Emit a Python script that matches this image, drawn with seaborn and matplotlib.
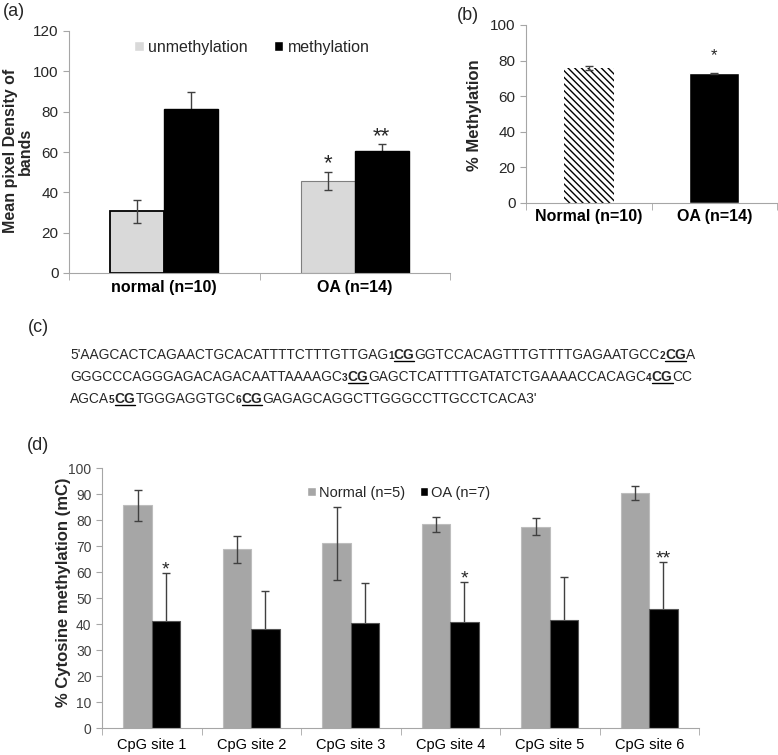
import re
import numpy as np
import pandas as pd
import matplotlib
matplotlib.use("Agg")
import matplotlib.pyplot as plt
from matplotlib.patches import Patch
from matplotlib.lines import Line2D
import seaborn as sns

# ---------------- DATA ----------------
# (a) mean pixel density of bands
a_groups = ["normal (n=10)", "OA (n=14)"]
a_types = ["unmethylation", "methylation"]
a_unmeth = [30.5, 45.8]
a_unmeth_err = [5.5, 4.5]
a_meth = [81.5, 60.3]
a_meth_err = [8.5, 3.6]
a_stars_unmeth = ["", "*"]
a_stars_meth = ["", "**"]

# (b) % methylation
b_groups = ["Normal (n=10)", "OA (n=14)"]
b_values = [75.8, 72.8]
b_err = [1.2, 0.5]
b_stars = ["", "*"]

# (c) promoter sequence, digit+CG marks a CpG site
seq_lines = [
    "5'AAGCACTCAGAACTGCACATTTTCTTTGTTGAG1CGGGTCCACAGTTTGTTTTGAGAATGCC2CGA",
    "GGGCCCAGGGAGACAGACAATTAAAAGC3CGGAGCTCATTTTGATATCTGAAAACCACAGC4CGCC",
    "AGCA5CGTGGGAGGTGC6CGGAGAGCAGGCTTGGGCCTTGCCTCACA3'",
]

# (d) % cytosine methylation per CpG site
d_sites = ["CpG site 1", "CpG site 2", "CpG site 3", "CpG site 4", "CpG site 5", "CpG site 6"]
d_groups = ["Normal (n=5)", "OA (n=7)"]
d_normal = [85.7, 68.8, 71.0, 78.3, 77.4, 90.4]
d_normal_err = [6.0, 5.2, 14.0, 3.0, 3.2, 2.8]
d_oa = [41.2, 38.0, 40.5, 40.7, 41.7, 45.8]
d_oa_err = [18.5, 14.6, 15.3, 15.5, 16.4, 18.0]
d_stars = ["*", "", "", "*", "", "**"]

# ---------------- SETUP ----------------
sns.set_style("ticks")
plt.rcParams["font.family"] = ["Liberation Sans", "DejaVu Sans"]
plt.rcParams["hatch.linewidth"] = 1.0

W, H = 778, 755
fig = plt.figure(figsize=(W / 100, H / 100), dpi=100)


def px_axes(left, top, right, bottom):
    return fig.add_axes([left / W, 1 - bottom / H, (right - left) / W, (bottom - top) / H])


def style_axes(ax, ymax, ystep, tick_color, ysize, xsize, xbold, xpad):
    sc = "#a6a6a6"
    sns.despine(ax=ax)
    for s in ["left", "bottom"]:
        ax.spines[s].set_color(sc)
    ax.set_ylim(0, ymax)
    ax.set_yticks(np.arange(0, ymax + 1, ystep))
    n = len(ax.get_xticks())
    ax.set_xlim(-0.5, n - 0.5)
    ax.set_xticks(np.arange(-0.5, n), minor=True)
    ax.tick_params(axis="x", which="major", length=0, pad=xpad, labelsize=xsize, labelcolor="black")
    ax.tick_params(axis="x", which="minor", length=5, color=sc, direction="out")
    ax.tick_params(axis="y", length=4, color=sc, direction="out", labelsize=ysize, labelcolor=tick_color)
    if xbold:
        for lab in ax.get_xticklabels():
            lab.set_fontweight("bold")
    ax.set_xlabel("")
    ax.set_ylabel("")


def add_errors(ax, bars, errs, zorder):
    for bar, e in zip(bars, errs):
        x = bar.get_x() + bar.get_width() / 2
        ax.errorbar(x, bar.get_height(), yerr=e, fmt="none", ecolor="#404040",
                    elinewidth=1, capsize=3, capthick=1, zorder=zorder)


def add_stars(ax, bars, errs, stars, offset, size, weight="normal"):
    for bar, e, s in zip(bars, errs, stars):
        if s:
            ax.text(bar.get_x() + bar.get_width() / 2, bar.get_height() + e + offset, s,
                    ha="center", va="baseline", fontsize=size, fontweight=weight)


def ylabel_px(text, x, y, size):
    fig.text(x / W, 1 - y / H, text, rotation=90, ha="center", va="center",
             fontsize=size, fontweight="bold", linespacing=1.05, multialignment="center")


# ---------------- (a) ----------------
ax_a = px_axes(69, 31, 450, 273)
a_df = pd.DataFrame({
    "group": a_groups * 2,
    "type": [a_types[0]] * len(a_groups) + [a_types[1]] * len(a_groups),
    "value": a_unmeth + a_meth,
})
sns.barplot(data=a_df, x="group", y="value", hue="type", palette=["#d9d9d9", "black"],
            width=0.565, saturation=1, errorbar=None, legend=False, ax=ax_a)
unmeth_bars, meth_bars = ax_a.containers[0], ax_a.containers[1]
unmeth_bars[0].set_edgecolor("black")
unmeth_bars[0].set_linewidth(1.3)
unmeth_bars[1].set_edgecolor("#7f7f7f")
unmeth_bars[1].set_linewidth(0.8)
for b in meth_bars:
    b.set_edgecolor("black")
add_errors(ax_a, unmeth_bars, a_unmeth_err, 5)
add_errors(ax_a, meth_bars, a_meth_err, 0.5)
add_stars(ax_a, unmeth_bars, a_unmeth_err, a_stars_unmeth, 1.0, 16)
add_stars(ax_a, meth_bars, a_meth_err, a_stars_meth, 1.0, 16)
style_axes(ax_a, 120, 20, "#262626", 11, 11.5, True, 5)
ylabel_px("Mean pixel Density of\nbands", 18, 151, 11.5)
ax_a.legend([Patch(facecolor="#d9d9d9"), Patch(facecolor="black")], a_types,
            loc="upper center", bbox_to_anchor=(0.48, 0.99), borderaxespad=0, ncol=2,
            frameon=False, handlelength=0.6, handleheight=0.6, handletextpad=0.3,
            columnspacing=1.6, fontsize=11.5)

# ---------------- (b) ----------------
ax_b = px_axes(526, 25, 777, 203)
b_df = pd.DataFrame({"group": b_groups, "value": b_values})
sns.barplot(data=b_df, x="group", y="value", hue="group", palette=["white", "black"],
            width=0.4, saturation=1, errorbar=None, legend=False, ax=ax_b)
b_bars = [c[0] for c in ax_b.containers]
b_bars[0].set_hatch("\\\\\\\\\\")
b_bars[0].set_edgecolor("black")
b_bars[0].set_linewidth(0)
add_errors(ax_b, b_bars, b_err, 5)
add_stars(ax_b, b_bars, b_err, b_stars, 7, 12)
style_axes(ax_b, 100, 20, "#262626", 11, 11.5, True, 4)
ylabel_px("% Methylation", 475, 115, 12)

# ---------------- (d) ----------------
ax_d = px_axes(102, 468, 699, 728)
d_df = pd.DataFrame({
    "site": d_sites * 2,
    "group": [d_groups[0]] * len(d_sites) + [d_groups[1]] * len(d_sites),
    "value": d_normal + d_oa,
})
sns.barplot(data=d_df, x="site", y="value", hue="group", palette=["#a6a6a6", "black"],
            width=0.57, saturation=1, errorbar=None, legend=False, ax=ax_d)
normal_bars, oa_bars = ax_d.containers[0], ax_d.containers[1]
for b in normal_bars:
    b.set_edgecolor("#bdbdbd")
    b.set_linewidth(0.8)
for b in oa_bars:
    b.set_edgecolor("#555555")
    b.set_linewidth(0.8)
add_errors(ax_d, normal_bars, d_normal_err, 5)
add_errors(ax_d, oa_bars, d_oa_err, 0.5)
add_stars(ax_d, oa_bars, d_oa_err, d_stars, -0.5, 14)
style_axes(ax_d, 100, 10, "#404040", 10, 10.5, False, 7)
ylabel_px("% Cytosine methylation (mC)", 64, 592, 12)
ax_d.legend([Patch(facecolor="#a6a6a6"), Patch(facecolor="black")], d_groups,
            loc="upper center", bbox_to_anchor=(0.497, 0.955), borderaxespad=0, ncol=2,
            frameon=False, handlelength=0.6, handleheight=0.6, handletextpad=0.2,
            columnspacing=1.0, fontsize=10.5)

# ---------------- panel letters ----------------
for lab, x, y in [("(a)", 3, 12), ("(b)", 457, 15), ("(c)", 28, 327), ("(d)", 27, 445)]:
    fig.text(x / W, 1 - y / H, lab, fontsize=13, ha="left", va="center")

# ---------------- (c) sequence ----------------
renderer = fig.canvas.get_renderer()


def draw_seq_line(line, x_px, y_px):
    x = x_px
    for part in re.split(r"(\dCG)", line):
        if not part:
            continue
        if re.fullmatch(r"\dCG", part):
            segs = [(part[0], 7.3, "bold", False), ("CG", 9.9, "bold", True)]
        else:
            segs = [(part, 9.9, "normal", False)]
        for txt, size, weight, underline in segs:
            t = fig.text(x / W, 1 - y_px / H, txt, fontsize=size, fontweight=weight,
                         ha="left", va="baseline")
            bb = t.get_window_extent(renderer)
            if underline:
                fig.add_artist(Line2D([bb.x0 / W, bb.x1 / W], [1 - (y_px + 2) / H] * 2,
                                      transform=fig.transFigure, color="black", lw=1))
            x += bb.width


for i, line in enumerate(seq_lines):
    draw_seq_line(line, 70, 359 + 22 * i)

fig.savefig("out.png", dpi=100)
